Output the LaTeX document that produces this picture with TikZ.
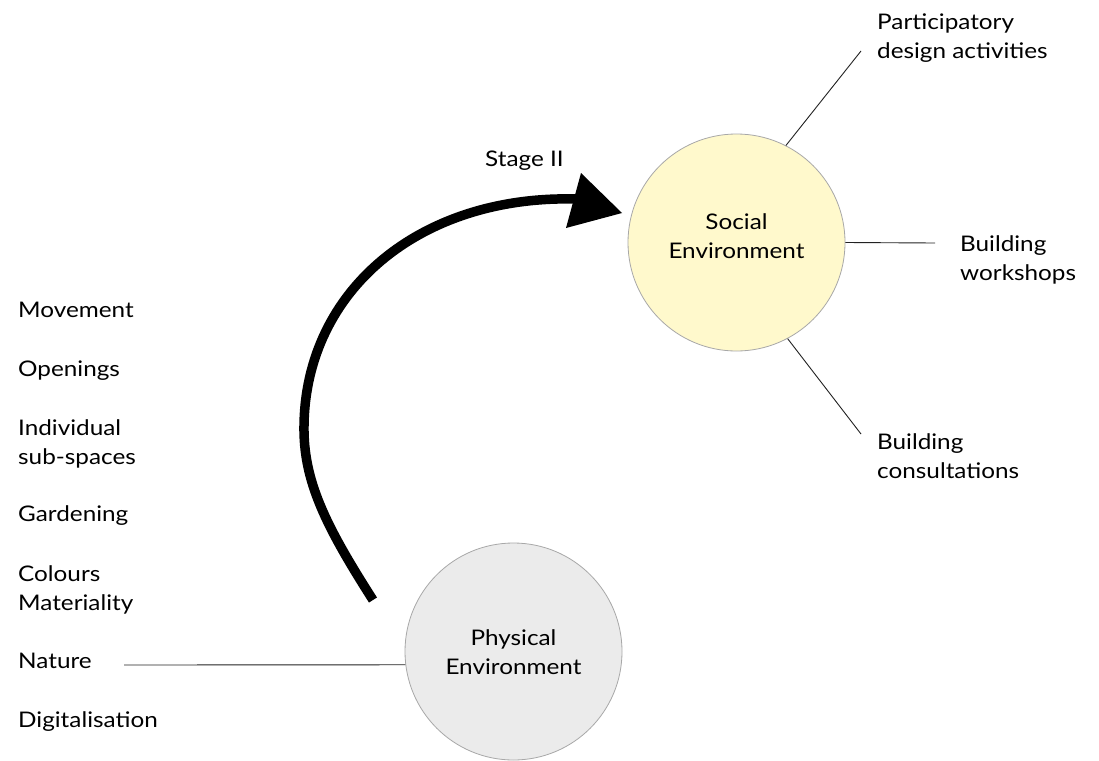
\documentclass[tikz,border=0pt]{standalone}
\usepackage{fontspec}
\setmainfont{Lato}[FakeStretch=1.13]
\definecolor{socfill}{HTML}{FFF9CC}
\definecolor{phyfill}{HTML}{EBEBEB}
\definecolor{rimcol}{HTML}{A8A8A8}
\definecolor{linecol}{HTML}{222222}
\begin{document}
\begin{tikzpicture}[x=1pt,y=-1pt,
  envcircle/.style={circle,draw=rimcol,line width=0.8pt,minimum size=217pt,inner sep=0pt},
  lbl/.style={font=\fontsize{21.5}{29}\selectfont,inner sep=0pt,anchor=base west,align=left},
  ctr/.style={font=\fontsize{21.5}{29}\selectfont,inner sep=0pt,anchor=base},
  conn/.style={draw=linecol,line width=0.9pt}]
\fill[white] (0,0) rectangle (1099,760);
\useasboundingbox (0,0) rectangle (1099,760);
% circles
\node[envcircle,fill=socfill] (social) at (736.5,242.5) {};
\node[envcircle,fill=phyfill] (physical) at (513.5,651.5) {};
\node[ctr] (soc1) at (736.5,229) {Social};
\node[ctr] (soc2) at (736.5,258) {Environment};
\node[ctr] (phy1) at (513.5,645) {Physical};
\node[ctr] (phy2) at (513.5,674) {Environment};
% left labels
\node[lbl] (movement) at (18,317.5) {Movement};
\node[lbl] (openings) at (18,376) {Openings};
\node[lbl] (indiv) at (18,435) {Individual};
\node[lbl] (subsp) at (18,464) {sub-spaces};
\node[lbl] (garden) at (18,521.5) {Gardening};
\node[lbl] (colours) at (18,581.5) {Colours};
\node[lbl] (mater) at (18,610.5) {Materiality};
\node[lbl] (nature) at (18,668.5) {Nature};
\node[lbl] (digital) at (18,727.5) {Digitalisation};
% right labels
\node[lbl] (partic1) at (877,29.5) {Participatory};
\node[lbl] (partic2) at (877,58.5) {design activities};
\node[lbl] (work1) at (960,251) {Building};
\node[lbl] (work2) at (960,280) {workshops};
\node[lbl] (cons1) at (877,449) {Building};
\node[lbl] (cons2) at (877,478) {consultations};
\node[lbl] (stage) at (485,166) {Stage II};
% connector ends
\coordinate (pEnd) at (861,51);
\coordinate (wEnd) at (935,243);
\coordinate (cEnd) at (861,434);
\coordinate (nEnd) at (124,665);
\draw[conn] (social.63.8) -- (pEnd);
\draw[conn] (social.east) -- (wEnd);
\draw[conn] (social.-62.6) -- (cEnd);
\draw[conn] (physical.187.1) -- (nEnd);
% stage arrow
\coordinate (arrS) at (373,600);
\coordinate (arrM) at (304,425);
\coordinate (arrE) at (576,199);
\coordinate (headA) at (581,173);
\coordinate (headTip) at (622,213);
\coordinate (headB) at (566,228);
\draw[line width=9.5pt] (arrS) .. controls (325,525) and (303,480) .. (arrM)
  .. controls (306,290) and (420,195) .. (arrE);
\fill (headA) -- (headTip) -- (headB) -- cycle;
\end{tikzpicture}
\end{document}
